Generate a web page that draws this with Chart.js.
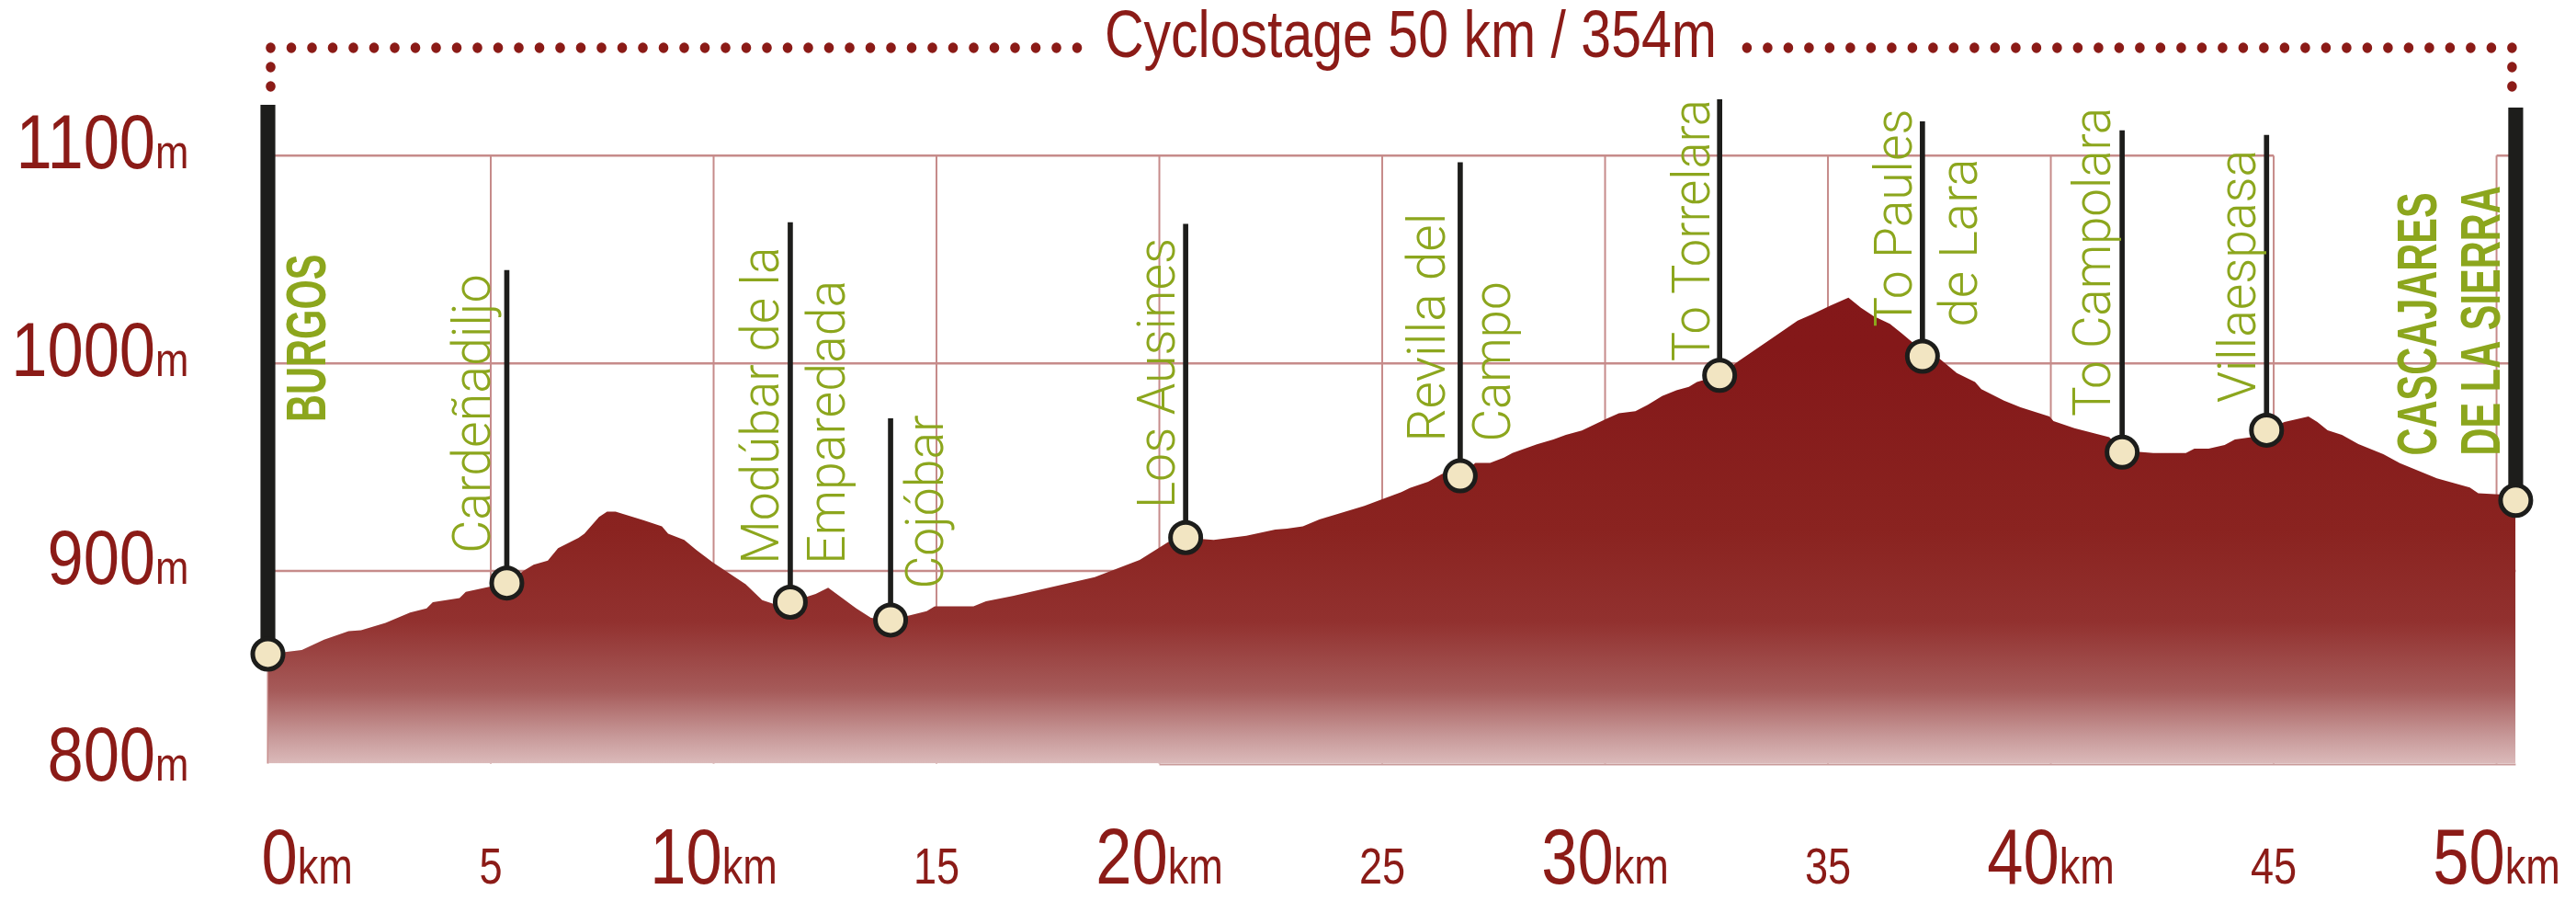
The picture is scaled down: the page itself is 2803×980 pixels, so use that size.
<!DOCTYPE html>
<html><head><meta charset="utf-8">
<script src="https://cdn.jsdelivr.net/npm/chart.js@4.4.1/dist/chart.umd.min.js"></script>
<style>html,body{margin:0;padding:0;background:#fff;overflow:hidden}canvas{display:block}</style>
</head><body>
<canvas id="c" width="2803" height="980"></canvas>
<script>
// ---------- DATA ----------
const profileKm = [0.00,0.76,1.26,1.81,2.09,2.64,3.19,3.56,3.70,4.30,4.44,4.99,5.36,5.73,5.96,6.28,6.51,6.97,7.10,7.43,7.61,7.80,8.42,8.84,8.98,9.34,9.62,9.99,10.72,11.09,11.37,11.72,12.29,12.57,13.20,13.53,13.97,14.78,14.96,15.83,16.11,16.71,17.63,18.55,19.56,20.20,20.59,21.22,21.95,22.60,22.86,23.22,23.59,24.60,24.97,25.43,25.62,26.03,26.35,26.75,27.09,27.42,27.73,27.92,28.47,28.84,29.12,29.48,30.03,30.31,30.68,30.96,31.28,31.60,31.88,32.06,32.57,32.98,33.81,34.32,34.64,35.05,35.46,35.74,36.02,36.39,36.66,37.12,37.52,37.89,38.30,38.44,38.95,39.32,39.97,40.06,40.53,41.31,41.60,42.30,43.03,43.22,43.54,43.90,44.13,44.50,44.84,45.24,45.78,45.98,46.21,46.53,46.90,47.46,47.83,48.66,49.40,49.59,50.43];
const profileElev = [860,862,867,871,871.5,875,880,882,885,887,890,892.5,894,900,903,905,911,916,918,926,928.6,928.6,924.5,921.5,918,915,910,904,893.6,886,884,885,889,892,882,877.5,876.4,880.7,883,883,885.4,888,892.5,897,905.4,914,916,915,917,920,920.4,921.5,924.8,931.4,934.3,938,940,943,946.8,946,952,952,954.6,956.8,961,963.3,965.5,967.7,973.3,976,977,980,984.3,987,988.7,991,994.2,1000.8,1013,1020.6,1023.5,1027.7,1031.6,1026.8,1022.8,1019,1014.4,1006,1002,995.3,991,987.6,982,978.8,974.4,972.2,968.8,964.4,958,956.8,956.8,958.9,958.9,960.7,963.3,964.4,967.8,971.7,974.4,971.7,967.8,965.6,961.1,956.3,951.9,944.6,940.2,937.4,936.5];

const waypointNames = ['BURGOS','Cardeñadiljo','Modúbar de la\nEmparedada','Cojóbar','Los Ausines','Revilla del\nCampo','To Torrelara','To Paules\nde Lara','To Campolara','Villaespasa','CASCAJARES\nDE LA SIERRA'];
const waypointKm    = [0, 5.36, 11.72, 13.97, 20.59, 26.75, 32.57, 37.12, 41.60, 44.84, 50.43];
const waypointElev  = [860, 894.2, 885, 876.4, 916.1, 945.8, 994.2, 1003.4, 957.2, 967.8, 934];
const waypointPoleTop = [1124.3, 1044.8, 1067.8, 973.4, 1067, 1096.6, 1127, 1116.4, 1112, 1109.8, 1123];
const waypointMajor = [true,false,false,false,false,false,false,false,false,false,true];

const xTickValues = [0,5,10,15,20,25,30,35,40,45,50];
const xTickLabels = ['0','5','10','15','20','25','30','35','40','45','50'];
const xUnit = 'km';
const yTickValues = [800,900,1000,1100];
const yTickLabels = ['800','900','1000','1100'];
const yUnit = 'm';
const titleText = 'Cyclostage 50 km / 354m';

// ---------- LAYOUT / STYLE ----------
const labelLayout = [
  {base: 971.8, dx:[62], bold:true},
  {base: 908.6, dx:[-18]},
  {base: 903.2, dx:[-12.5, 59]},
  {base: 891.4, dx:[57]},
  {base: 930.1, dx:[-12]},
  {base: 962.2, dx:[-17, 54.5]},
  {base: 1000.8, dx:[-11]},
  {base: 1017.5, dx:[-12, 58.7]},
  {base: 974.4, dx:[-13]},
  {base: 981, dx:[-12]},
  {base: 955.6, dx:[-86.5, -17], bold:true}
];
const topGridGap = [45, 50];
const RED = '#8b1b17';
const GREEN = '#8ca61d';
const GRID = '#c68b8a';
const POLE = '#1d1d1b';
const SXA = 0.82;

function txt(ctx, s, x, y, font, sx, color){
  ctx.save(); ctx.font = font; ctx.fillStyle = color;
  ctx.translate(x, y); ctx.scale(sx, 1);
  ctx.textAlign = 'left'; ctx.textBaseline = 'alphabetic';
  ctx.fillText(s, 0, 0); ctx.restore();
}
function mw(ctx, s, font){ ctx.save(); ctx.font = font; const m = ctx.measureText(s).width; ctx.restore(); return m; }
function vtxt(ctx, s, bx, by, font, sx, color){
  ctx.save(); ctx.font = font; ctx.fillStyle = color;
  ctx.translate(bx, by); ctx.rotate(-Math.PI/2); ctx.scale(sx, 1);
  ctx.textAlign = 'left'; ctx.textBaseline = 'alphabetic';
  ctx.fillText(s, 0, 0); ctx.restore();
}

const decor = {
  id: 'decor',
  beforeDatasetsDraw(chart){
    const {ctx, chartArea:a, scales:{x, y}} = chart;
    ctx.save();
    ctx.strokeStyle = GRID;
    yTickValues.filter(v => v >= y.min).forEach(v => {
      const py = y.getPixelForValue(v);
      const segs = v === yTickValues[yTickValues.length-1] ? [[0, topGridGap[0]], [topGridGap[1], x.max]] : [[0, x.max]];
      ctx.lineWidth = 2.5;
      segs.forEach(([k0, k1]) => {
        ctx.beginPath(); ctx.moveTo(x.getPixelForValue(k0), py); ctx.lineTo(x.getPixelForValue(k1), py); ctx.stroke();
      });
    });
    const topPx = y.getPixelForValue(yTickValues[yTickValues.length-1]);
    ctx.lineWidth = 2;
    xTickValues.forEach(k => {
      const px = x.getPixelForValue(k);
      ctx.beginPath(); ctx.moveTo(px, topPx); ctx.lineTo(px, a.bottom); ctx.stroke();
    });
    ctx.strokeStyle = '#c99c9b'; ctx.lineWidth = 2;
    ctx.beginPath(); ctx.moveTo(x.getPixelForValue(20), a.bottom + 1); ctx.lineTo(x.getPixelForValue(x.max), a.bottom + 1); ctx.stroke();
    ctx.restore();
  },
  afterDatasetsDraw(chart){
    const {ctx, chartArea:a, scales:{x, y}} = chart;
    // waypoint labels
    waypointNames.forEach((name, i) => {
      const L = labelLayout[i];
      const lines = name.split('\n');
      const by = y.getPixelForValue(L.base);
      const px = x.getPixelForValue(waypointKm[i]);
      lines.forEach((s, j) => {
        const bx = px + L.dx[j];
        if (L.bold){
          vtxt(ctx, s, bx, by, 'bold 62px "Liberation Sans"', 0.67, GREEN);
        } else {
          const ref = mw(ctx, s, '54px "Liberation Sans"');
          const act = mw(ctx, s, '300 57px Roboto');
          vtxt(ctx, s, bx, by, '300 57px Roboto', ref/act, GREEN);
        }
      });
    });
    // y axis labels
    const FYN = '84px "Liberation Sans"', FYU = '52px "Liberation Sans"';
    yTickValues.forEach((v, i) => {
      const num = yTickLabels[i];
      const py = v < y.min ? a.bottom + 18 : y.getPixelForValue(v) + 14;
      const w1 = mw(ctx, num, FYN) * 0.84, w2 = mw(ctx, yUnit, FYU) * 0.84;
      const right = a.left - 86;
      txt(ctx, num, right - w1 - w2, py, FYN, 0.84, RED);
      txt(ctx, yUnit, right - w2, py, FYU, 0.84, RED);
    });
    // x axis labels
    const FXB = '86px "Liberation Sans"', FXS = '55px "Liberation Sans"';
    const base = a.bottom + 130;
    xTickValues.forEach((v, i) => {
      const major = v % 10 === 0;
      const num = xTickLabels[i];
      const f1 = major ? FXB : FXS;
      const w1 = mw(ctx, num, f1) * SXA;
      const w2 = major ? mw(ctx, xUnit, FXS) * SXA : 0;
      const px = x.getPixelForValue(v);
      const left = i === 0 ? px - 7 : px - (w1 + w2) / 2;
      txt(ctx, num, left, base, f1, SXA, RED);
      if (major) txt(ctx, xUnit, left + w1, base, FXS, SXA, RED);
    });
    // title
    const FT = '72px "Liberation Sans"';
    const tw = mw(ctx, titleText, FT) * SXA;
    const xL = x.getPixelForValue(0) + 3, xR = x.getPixelForValue(x.max) - 4;
    const cx = (xL + xR) / 2 + 21;
    const tl = cx - tw / 2, tr = cx + tw / 2;
    txt(ctx, titleText, tl, a.top - 39.5, FT, SXA, RED);
    // dotted bracket
    const dy = a.top - 49.5;
    ctx.save(); ctx.fillStyle = RED;
    const dot = (px, py) => { ctx.beginPath(); ctx.ellipse(px, py, 5.3, 5.8, 0, 0, Math.PI*2); ctx.fill(); };
    for (let px = xL; px <= tl - 24; px += 22.5) dot(px, dy);
    for (let px = xR; px >= tr + 26; px -= 22.5) dot(px, dy);
    const lTop = y.getPixelForValue(waypointPoleTop[0]);
    const rTop = y.getPixelForValue(waypointPoleTop[waypointPoleTop.length-1]);
    for (let py = dy + 21; py < lTop - 8; py += 21) dot(xL, py);
    for (let py = dy + 21; py < rTop - 8; py += 21) dot(xR, py);
    ctx.restore();
  }
};

function fillGradient(c){
  const {chartArea, ctx} = c.chart;
  if (!chartArea) return '#84181a';
  const g = ctx.createLinearGradient(0, chartArea.top, 0, chartArea.bottom);
  g.addColorStop(0, '#83171a');
  g.addColorStop(0.382, '#841819');
  g.addColorStop(0.652, '#8a2320');
  g.addColorStop(0.789, '#92312f');
  g.addColorStop(0.892, '#a65b5a');
  g.addColorStop(0.959, '#c79898');
  g.addColorStop(1, '#dbbaba');
  return g;
}

const poles = (major) => waypointKm.map((k, i) => ({x: k, y: [waypointElev[i], waypointPoleTop[i]], m: waypointMajor[i]})).filter(p => p.m === major);

new Chart(document.getElementById('c'), {
  type: 'line',
  data: {
    datasets: [
      { type: 'line', label: 'Elevation', data: profileKm.map((k, i) => ({x: k, y: profileElev[i]})),
        fill: 'start', backgroundColor: fillGradient, borderColor: 'rgba(0,0,0,0)', borderWidth: 0,
        pointRadius: 0, tension: 0, order: 3 },
      { type: 'bar', label: 'Start/finish poles', data: poles(true), backgroundColor: POLE, borderWidth: 0,
        grouped: false, maxBarThickness: 15.5, barPercentage: 1, categoryPercentage: 1, order: 2, clip: false },
      { type: 'bar', label: 'Waypoint poles', data: poles(false), backgroundColor: POLE, borderWidth: 0,
        grouped: false, maxBarThickness: 5, barPercentage: 1, categoryPercentage: 1, order: 2, clip: false },
      { type: 'line', label: 'Waypoints', data: waypointKm.map((k, i) => ({x: k, y: waypointElev[i]})),
        showLine: false, pointRadius: 16.5, pointBorderWidth: 5, pointBackgroundColor: '#f2e5c2',
        pointBorderColor: POLE, order: 1, clip: false }
    ]
  },
  options: {
    responsive: false, animation: false, devicePixelRatio: 1, events: [],
    layout: { padding: { left: 291.5, right: 65.6, top: 101.5, bottom: 149.5 } },
    scales: {
      x: { type: 'linear', min: 0, max: 50.43, display: false, offset: false },
      y: { type: 'linear', min: 807.3, max: 1130, display: false }
    },
    plugins: { legend: { display: false }, tooltip: { enabled: false }, title: { display: false } }
  },
  plugins: [decor]
});
</script>
</body></html>
